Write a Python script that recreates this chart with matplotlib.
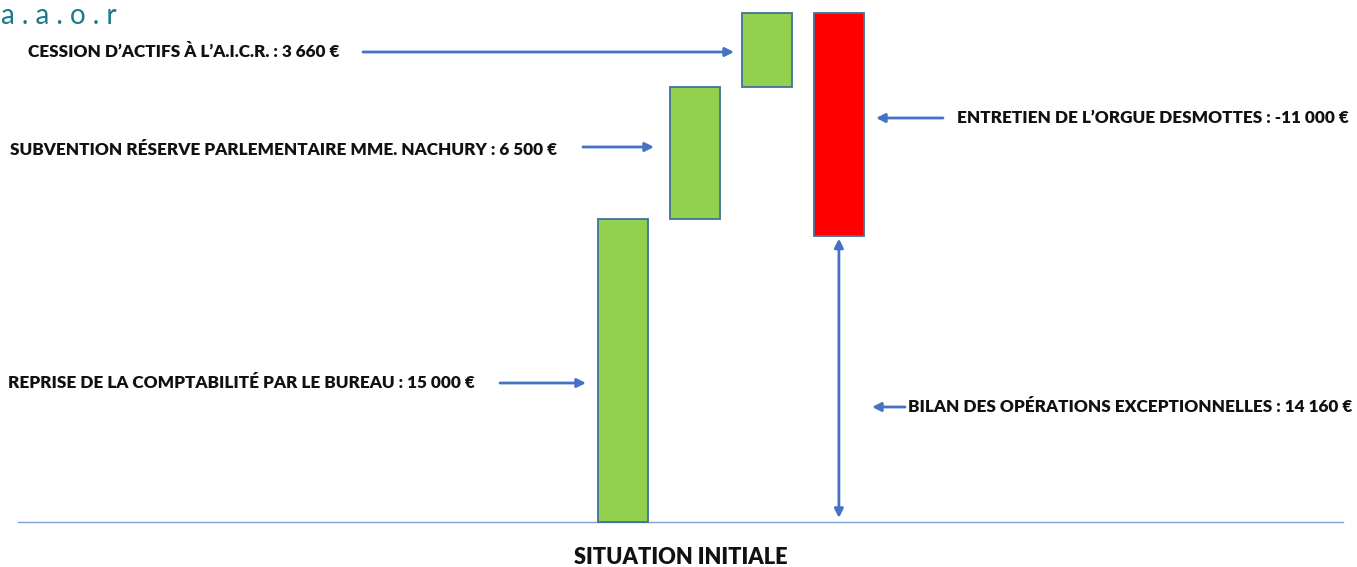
import matplotlib.pyplot as plt
import numpy as np

#
# Data
#

labels = ["REPRISE DE LA COMPTABILITÉ PAR LE BUREAU : 15 000 €",
          "SUBVENTION RÉSERVE PARLEMENTAIRE MME. NACHURY : 6 500 €",
          "CESSION D\u2019ACTIFS À L\u2019A.I.C.R. : 3 660 €",
          "ENTRETIEN DE L\u2019ORGUE DESMOTTES : -11 000 €"]
amounts = [15000, 6500, 3660, -11000]
total_label = "BILAN DES OPÉRATIONS EXCEPTIONNELLES : 14 160 €"
axis_label = "SITUATION INITIALE"

#
# Settings
#

W, H = 1357, 567
green = "#92d050"
red = "#ff0000"
edge = "#41719c"
blue = "#4472c4"
font = "Lato"

amounts = np.array(amounts)
bottoms = np.concatenate([[0], np.cumsum(amounts)[:-1]])
total = amounts.sum()
colors = [green if a > 0 else red for a in amounts]
x = np.arange(len(amounts))

# pixel helpers (layout only)
sx = 72.1; x0 = 622.6; y0 = 522; sy = 0.02023
def px(p): return (p - x0) / sx
def py(p): return (y0 - p) / sy

fig = plt.figure(figsize=(W / 100, H / 100), dpi=100, facecolor="white")
ax = fig.add_axes([0, 0, 1, 1])
ax.set_xlim(px(0), px(W))
ax.set_ylim(py(H), py(0))
ax.axis("off")

ax.bar(x, amounts, bottom=bottoms, width=50 / sx, color=colors, edgecolor=edge, linewidth=1.3, zorder=3)
ax.plot([px(18), px(1343)], [0, 0], color="#7f9fd6", lw=1, zorder=2)  # baseline

arrow = dict(arrowstyle="-|>", color=blue, lw=2, mutation_scale=13, shrinkA=0, shrinkB=0)

# step arrows
ax.annotate("", xy=(px(586), py(383)), xytext=(px(500), py(383)), arrowprops=arrow)
ax.annotate("", xy=(px(654), py(147)), xytext=(px(583), py(147)), arrowprops=arrow)
ax.annotate("", xy=(px(734), py(52)), xytext=(px(363), py(52)), arrowprops=arrow)
ax.annotate("", xy=(px(876), py(118)), xytext=(px(943), py(118)), arrowprops=arrow)
ax.annotate("", xy=(px(872), py(407)), xytext=(px(905), py(407)), arrowprops=arrow)
ax.annotate("", xy=(x[-1], total - 150), xytext=(x[-1], 200),
            arrowprops=dict(arrowstyle="<|-|>", color=blue, lw=2, mutation_scale=13, shrinkA=0, shrinkB=0))

# texts
tk = dict(fontfamily=font, fontweight="heavy", fontsize=12.3, color="#111111", va="center")
fig.text(8 / W, 1 - 383 / H, labels[0], ha="left", **tk)
fig.text(10 / W, 1 - 150 / H, labels[1], ha="left", **tk)
fig.text(28 / W, 1 - 52 / H, labels[2], ha="left", **tk)
fig.text(957 / W, 1 - 118 / H, labels[3], ha="left", **tk)
fig.text(1352 / W, 1 - 407 / H, total_label, ha="right", **tk)
fig.text(681 / W, 1 - 557 / H, axis_label, ha="center", fontfamily=font, fontweight="heavy", fontsize=15.7, color="#111111", va="center")

# logo
fig.text(1 / W, 1 - 16 / H, "a . a . o . r", ha="left", va="center", fontfamily=font, fontsize=20, color="#1a7a8c")

plt.savefig("out.png", dpi=100)
